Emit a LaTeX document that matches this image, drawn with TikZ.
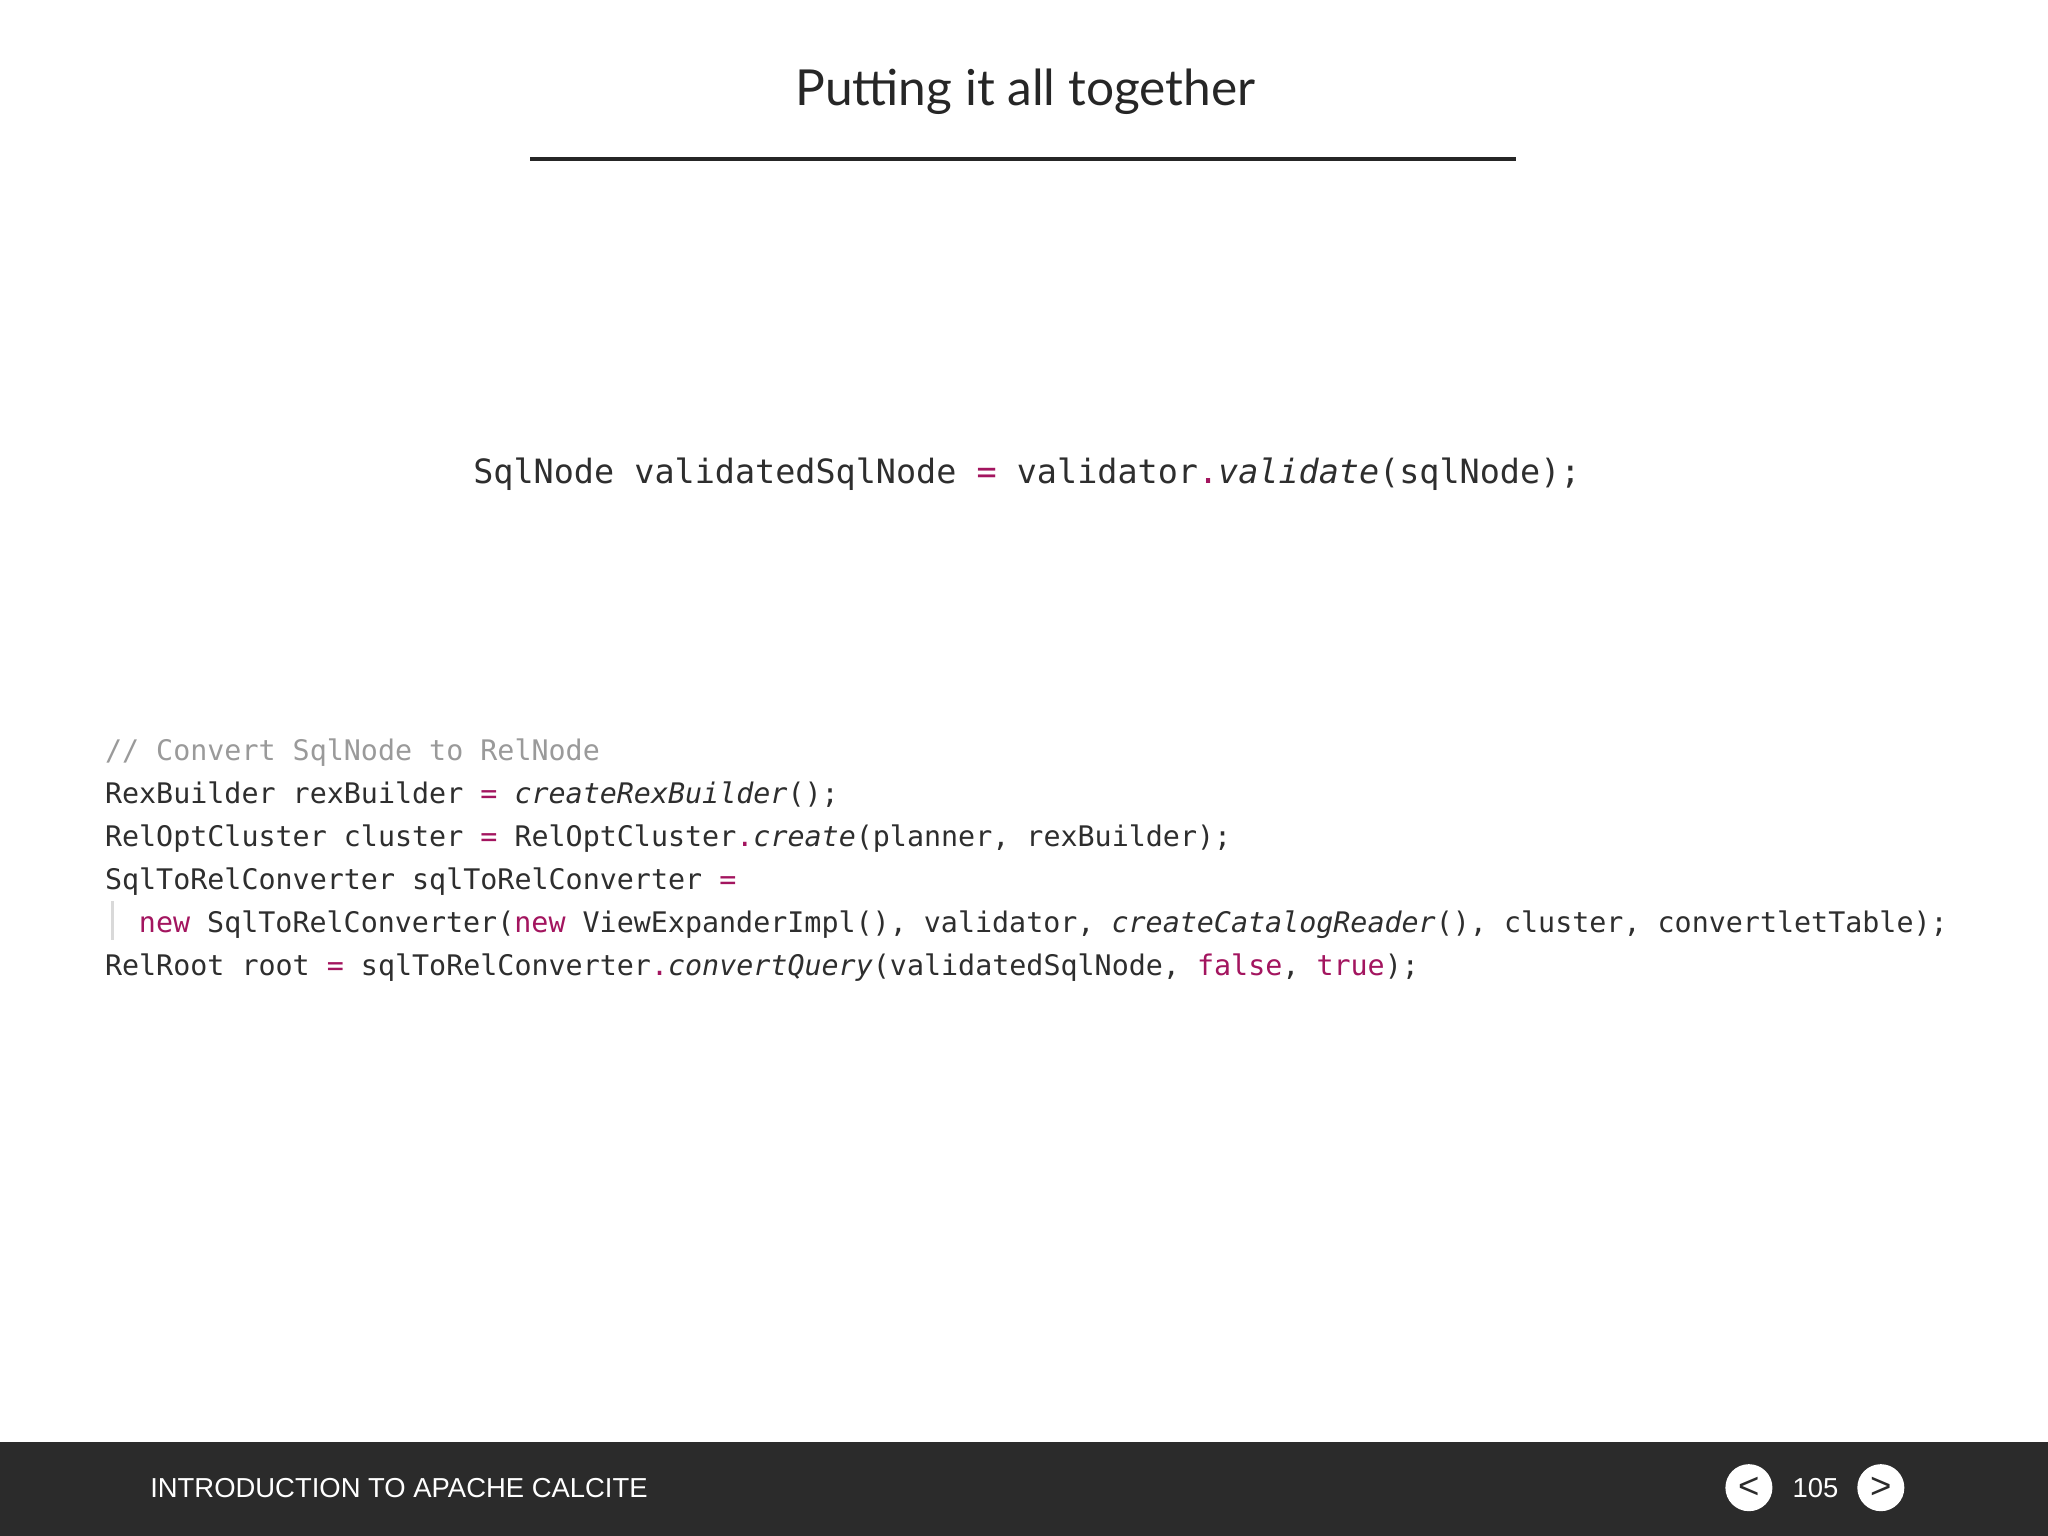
\documentclass[tikz,border=0pt]{standalone}
\usepackage{fontspec}
\setmainfont{Lato}
\setsansfont{Liberation Sans}
\setmonofont{DejaVu Sans Mono}
\definecolor{codetxt}{HTML}{2E2E2E}
\definecolor{kwc}{HTML}{A3155F}
\definecolor{cmt}{HTML}{9A9A9A}
\definecolor{bar}{HTML}{2B2B2B}
\newcommand{\kwd}[1]{\textcolor{kwc}{#1}}
\newcommand{\mth}[1]{\textit{#1}}
\begin{document}
\begin{tikzpicture}[x=0.5pt,y=-0.5pt,
  codeA/.style={anchor=base west,inner sep=0,text=codetxt,font=\ttfamily\fontsize{12.8}{15}\selectfont},
  codeB/.style={anchor=base west,inner sep=0,text=codetxt,font=\ttfamily\fontsize{10.85}{13}\selectfont},
  navbtn/.style={circle,fill=white,minimum size=18pt,inner sep=0,text=bar,font=\sffamily\fontsize{14}{14}\selectfont}]
\useasboundingbox (0,0) rectangle (1568,1176);
\fill[white] (0,0) rectangle (1568,1176);
\node[font=\fontsize{19}{22}\selectfont,text=black!85] (title) at (785,70) {Putting it all together};
\draw[line width=1.5pt,black!85] (406,122) -- (1161,122);
\node[codeA] (l0) at (362,370) {SqlNode validatedSqlNode \kwd{=} validator\kwd{.}\mth{validate}(sqlNode);};
\node[codeB,text=cmt] (c1) at (80,582) {// Convert SqlNode to RelNode};
\node[codeB] (c2) at (80,615) {RexBuilder rexBuilder \kwd{=} \mth{createRexBuilder}();};
\node[codeB] (c3) at (80,648) {RelOptCluster cluster \kwd{=} RelOptCluster\kwd{.}\mth{create}(planner, rexBuilder);};
\node[codeB] (c4) at (80,681) {SqlToRelConverter sqlToRelConverter \kwd{=}};
\node[codeB] (c5) at (106,714) {\kwd{new} SqlToRelConverter(\kwd{new} ViewExpanderImpl(), validator, \mth{createCatalogReader}(), cluster, convertletTable);};
\node[codeB] (c6) at (80,747) {RelRoot root \kwd{=} sqlToRelConverter\kwd{.}\mth{convertQuery}(validatedSqlNode, \kwd{false}, \kwd{true});};
\draw[black!15,line width=1pt] (86,690) -- (86,720);
\fill[bar] (0,1104) rectangle (1568,1176);
\node[anchor=west,text=white,font=\sffamily\fontsize{10.5}{12}\selectfont] (foot) at (108,1139) {INTRODUCTION TO APACHE CALCITE};
\node[navbtn] (prev) at (1339,1139) {<};
\node[text=white,font=\sffamily\fontsize{10.5}{12}\selectfont] (pg) at (1390,1139) {105};
\node[navbtn] (next) at (1440,1139) {>};
\end{tikzpicture}
\end{document}
